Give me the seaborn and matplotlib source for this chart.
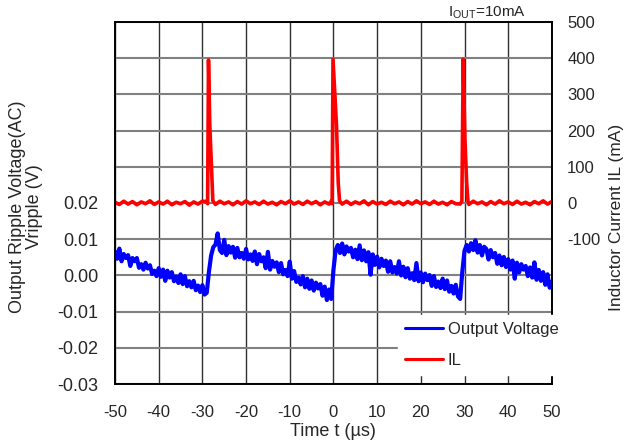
import numpy as np
import matplotlib
matplotlib.use("Agg")
import matplotlib.pyplot as plt
import seaborn as sns

sns.set_style("white")
plt.rcParams["font.family"] = ["Liberation Sans", "DejaVu Sans"]
plt.rcParams["axes.unicode_minus"] = False

# sample grid of the ripple trace (us)
time_us = np.arange(-50, 50.01, 0.5)

# output ripple voltage, mV (0.5 us steps)
vout_mv = [
    6.6, 4.6, 7.4, 3.9, 5.9, 4.8, 5.6, 2.6, 4.8, 3.9,        # -50
    4.8, 2.1, 3.1, 1.6, 3.5, 1.9, 2.8, 0.4, 1.3, -0.2,       # -45
    2.0, -0.4, 1.6, -1.5, 1.3, -0.6, 0.9, -1.6, -0.3, -2.1,  # -40
    0.3, -2.4, -0.2, -3.0, -1.6, -3.3, -1.5, -4.1, -2.8, -4.6,  # -35
    -2.7, -5.3, -4.8, 1.0, 5.5, 7.8, 8.5, 11.6, 7.0, 6.2,    # -30
    9.8, 5.6, 8.1, 6.3, 7.9, 4.9, 7.6, 5.0, 6.2, 4.6,        # -25
    7.3, 4.4, 5.8, 4.0, 6.6, 3.1, 5.9, 3.9, 5.0, 2.0,        # -20
    6.5, 1.6, 4.0, 2.4, 3.6, 0.9, 3.4, 0.3, 1.5, -0.2,       # -15
    3.8, -0.9, 1.2, -1.8, -0.6, -2.5, -0.2, -3.3, -0.9, -3.7,  # -10
    -1.4, -4.2, -2.0, -3.6, -2.4, -5.6, -3.1, -6.8, -3.9, -6.5,  # -5
    1.5, 6.9, 8.4, 6.2, 8.8, 5.8, 8.0, 6.6, 7.6, 5.0,        # 0
    7.1, 4.5, 8.3, 4.2, 6.9, 3.9, 6.4, 0.2, 5.8, 2.9,        # 5
    5.2, 2.2, 4.6, 2.6, 4.1, 1.0, 3.9, 0.8, 2.3, 0.5,        # 10
    3.9, 0.0, 2.4, -0.5, 2.0, -0.9, 0.6, -1.3, 3.4, -1.6,    # 15
    0.8, -1.9, 0.5, -1.3, 0.1, -2.9, -0.2, -3.2, -1.7, -3.5,  # 20
    -0.9, -3.8, -1.4, -4.5, -2.9, -5.0, -2.6, -5.8, -6.5, 1.0,  # 25
    6.8, 8.4, 6.6, 8.9, 7.0, 9.7, 6.3, 8.4, 5.5, 7.9,        # 30
    7.3, 4.4, 7.0, 5.0, 6.2, 3.2, 5.5, 2.8, 5.1, 2.3,        # 35
    4.5, 1.6, 4.1, -0.9, 3.5, 0.8, 3.1, 1.6, 2.6, -0.2,      # 40
    2.2, -0.6, 3.6, -1.2, 1.5, -1.5, 0.9, -2.6, 0.3, -3.4, -1.8,  # 45..50
]

# inductor current samples, denser around the three pulses
il_time_us = (list(range(-50, -29))
              + [-29.0, -28.8, -28.6, -28.3, -28.0, -27.6]
              + list(range(-27, 0))
              + [-0.5, -0.3, -0.1, 0.7, 1.1, 1.4]
              + list(range(2, 29))
              + [29.0, 29.4, 29.7, 30.1, 30.5, 30.8]
              + list(range(31, 51)))
il_ma = [
    2, -4, 5, -3, 4, -5, 3, -2, 6, -4, 3, -3, 5, -5, 2, -2, 4, -6, 3, -3, 5,
    4, -2, 395, 215, 125, 6,
    -4, 5, -2, 3, -5, 4, -3, 6, -2, 3, -4, 5, -3, 2, -5, 4, -2, 6, -3, 3,
    -4, 5, -2, 4, -5, 3, -3,
    5, -2, 397, 215, 55, 6,
    -3, 5, -4, 3, -2, 6, -5, 4, -3, 2, -4, 5, -2, 3, -5, 4, -3, 6, -2, 3,
    -4, 5, -3, 2, -5, 4, -2,
    -3, 5, 397, 175, 55, 5,
    -4, 5, -2, 3, -5, 4, -3, 6, -2, 3, -4, 5, -3, 2, -5, 4, -2, 6, -3, 4,
]

x_ticks = [-50, -40, -30, -20, -10, 0, 10, 20, 30, 40, 50]
left_ticks = [-0.03, -0.02, -0.01, 0.0, 0.01, 0.02, 0.03, 0.04, 0.05, 0.06, 0.07]
left_labels = ["-0.03", "-0.02", "-0.01", "0.00", "0.01", "0.02", "", "", "", "", ""]
right_ticks = [-100, 0, 100, 200, 300, 400, 500]

fig = plt.figure(figsize=(6.25, 4.46), dpi=100)
ax1 = fig.add_axes([0.184, 0.139, 0.699, 0.8117])
ax2 = ax1.twinx()

sns.lineplot(x=time_us, y=np.array(vout_mv) / 1000, ax=ax1, color="#0000ff",
             lw=3.0, label="Output Voltage", estimator=None)
sns.lineplot(x=il_time_us, y=il_ma, ax=ax2, color="#ff0000",
             lw=2.6, label="IL", estimator=None)
for ax in (ax1, ax2):
    if ax.get_legend() is not None:
        ax.get_legend().remove()

ax1.set_xlim(-50, 50)
ax1.set_ylim(-0.03, 0.07)
ax2.set_ylim(-500, 500)
ax1.set_xticks(x_ticks)
ax1.set_yticks(left_ticks, left_labels)
ax2.set_yticks(right_ticks)

ax1.grid(axis="y", color="#808080", lw=1.5)
ax1.grid(axis="x", color="#303030", lw=1.0)
ax1.set_axisbelow(True)
ax2.grid(False)

ax1.tick_params(axis="x", length=0, labelsize=12, pad=15)
ax1.tick_params(axis="y", length=0, labelsize=13, pad=12)
ax2.tick_params(axis="y", length=0, labelsize=12, pad=11)
for ax in (ax1, ax2):
    for s in ax.spines.values():
        s.set_color("black")
        s.set_linewidth(1.2)

ax1.set_xlabel("Time t (µs)", fontsize=13, labelpad=2)
ax1.set_ylabel("Output Ripple Voltage(AC)\nVripple (V)", fontsize=13, linespacing=1.0)
ax1.yaxis.set_label_coords(-0.165, 0.49)
ax2.set_ylabel("Inductor Current IL (mA)", fontsize=12.5)
ax2.yaxis.set_label_coords(1.13, 0.459)

fig.text(0.78, 0.972, r"I$_{\mathregular{OUT}}$=10mA", ha="center", va="center", fontsize=11)

h1, l1 = ax1.get_legend_handles_labels()
h2, l2 = ax2.get_legend_handles_labels()
leg = ax2.legend(h1 + h2, l1 + l2, loc="lower right", bbox_to_anchor=(1.03, 0.025),
                 borderaxespad=0, fontsize=12, frameon=True, fancybox=False,
                 facecolor="white", edgecolor="white", framealpha=1,
                 handlelength=2.3, handletextpad=0.25, labelspacing=1.0)
for line in leg.get_lines():
    line.set_linewidth(2.2)

fig.savefig("out.png", dpi=100)
